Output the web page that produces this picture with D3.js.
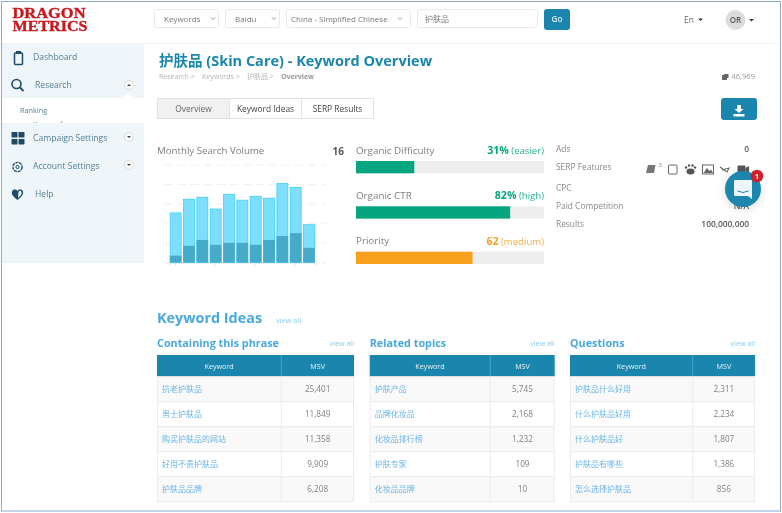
<!DOCTYPE html>
<html><head><meta charset="utf-8">
<script src="https://cdn.jsdelivr.net/npm/d3@7"></script>
<style>
html,body{margin:0;padding:0;background:#fff;overflow:hidden}
svg{display:block;font-family:"Open Sans","Noto Sans CJK SC",sans-serif;filter:blur(.3px)}
</style></head><body>
<svg id="c" width="782" height="513"></svg>
<script>
const months = d3.range(1, 12).map(String);
const totalVolume = [51, 65, 67, 55, 70, 64, 68, 66, 81, 77, 39];
const lowerVolume = [7, 17, 23, 18, 20, 20, 18, 23, 27, 30, 15];
const meterLabels = ["Organic Difficulty", "Organic CTR", "Priority"];
const meterValues = [31, 82, 62];
const meterTexts = [["31%", " (easier)"], ["82%", " (high)"], ["62", " (medium)"]];
const statLabels = ["Ads", "SERP Features", "CPC", "Paid Competition", "Results"];
const statValues = ["0", "", "", "N/A", "100,000,000"];
const tableTitles = ["Containing this phrase", "Related topics", "Questions"];
const table1Keywords = ["抗老护肤品", "男士护肤品", "购买护肤品的网站", "好用不贵护肤品", "护肤品品牌"];
const table1Msv = ["25,401", "11,849", "11,358", "9,909", "6,208"];
const table2Keywords = ["护肤产品", "品牌化妆品", "化妆品排行榜", "护肤专家", "化妆品品牌"];
const table2Msv = ["5,745", "2,168", "1,232", "109", "10"];
const table3Keywords = ["护肤品什么好用", "什么护肤品好用", "什么护肤品好", "护肤品有哪些", "怎么选择护肤品"];
const table3Msv = ["2,311", "2,234", "1,807", "1,386", "856"];

const svg = d3.select("#c");
const T = (x, y, s, size, fill, o = {}) => svg.append("text").attr("x", x).attr("y", y).text(s)
  .attr("font-size", size).attr("fill", fill).attr("font-weight", o.w || 400)
  .attr("text-anchor", o.a || "start");
const R = (x, y, w, h, fill, o = {}) => svg.append("rect").attr("x", x).attr("y", y).attr("width", w).attr("height", h)
  .attr("fill", fill).attr("stroke", o.s || "none").attr("rx", o.r || 0);
const P = (d, fill, o = {}) => svg.append("path").attr("d", d).attr("fill", fill)
  .attr("stroke", o.s || "none").attr("stroke-width", o.sw || 1);

const ink = "#1e4a63", teal = "#1a86ad", sky = "#4aa8e0", grey = "#7d7d7d", green = "#05a67f", orange = "#f7a01e";

// sidebar
R(2, 43, 142, 55, "#eef6fa");
T(33, 126.5, "Keywords", 7.3, "#557f93");
R(2, 123, 142, 140, "#eef6fa");
P("M122 98 L128 93 L134 98Z", "#fff");
T(33, 60, "Dashboard", 8.6, "#557f93");
T(35, 88, "Research", 8.6, "#557f93");
T(20, 113, "Ranking", 7.3, "#557f93");
T(33, 141, "Campaign Settings", 8.6, "#557f93");
T(33, 169, "Account Settings", 8.6, "#557f93");
T(35, 197, "Help", 8.6, "#557f93");
// sidebar icons
R(14.5, 53, 8, 11.5, "none", {s: ink, r: 1}).attr("stroke-width", 1.5);
R(16, 51, 5, 3, ink);
svg.append("circle").attr("cx", 16.5).attr("cy", 84).attr("r", 4.5).attr("fill", "none").attr("stroke", ink).attr("stroke-width", 1.6);
P("M20 87.5 L23.5 91", "none", {s: ink, sw: 1.8});
[[11.5, 132], [18.5, 132], [11.5, 139], [18.5, 139]].forEach(p => R(p[0], p[1], 6, 5.5, ink, {r: .8}));
svg.append("circle").attr("cx", 17.5).attr("cy", 167).attr("r", 4.6).attr("fill", "none").attr("stroke", ink).attr("stroke-width", 1.4).attr("stroke-dasharray", "3 .8");
svg.append("circle").attr("cx", 17.5).attr("cy", 167).attr("r", 1.6).attr("fill", "none").attr("stroke", ink);
P("M17.5 200 C12 196 11.5 193.5 12 191.5 C13 189 16 189 17.5 191 C19 189 22 189 23 191.5 C23.5 193.5 23 196 17.5 200Z", ink);
P("M18 198 C21 195.5 22 193.5 21.6 192 C21 190.5 19.5 190.5 18.5 191.8Z", "#eef6fa");
[[129, 85, 1], [129, 137, 0], [129, 165, 0]].forEach(d => {
  svg.append("circle").attr("cx", d[0]).attr("cy", d[1]).attr("r", 4.6).attr("fill", "#f8f8f8").attr("stroke", "#ddd");
  P(d[2] ? `M${d[0]-2} ${d[1]+1} L${d[0]} ${d[1]-1} L${d[0]+2} ${d[1]+1}Z` : `M${d[0]-2} ${d[1]-1} L${d[0]} ${d[1]+1} L${d[0]+2} ${d[1]-1}Z`, "#444");
});

// logo
const logoF = (y, s, len) => T(12.5, y, s, 14.2, "#c8181e", {w: 700})
  .attr("font-family", "Liberation Serif").attr("textLength", len).attr("lengthAdjust", "spacingAndGlyphs")
  .attr("stroke", "#c8181e").attr("stroke-width", .35);
logoF(18, "DRAGON", 73);
logoF(30.5, "METRICS", 75);

// top controls
const box = (x, w, s, tx) => { R(x + .5, 9.5, w, 18, "#fff", {s: "#e8e8e8", r: 2}); T(tx, 22, s, 8, "#777"); };
box(154, 64, "Keywords", 164);
box(225, 54, "Baidu", 235);
box(286, 124, "China - Simplified Chinese", 291);
box(417, 120, "护肤品", 425);
[[213, 18.5], [274, 18.5], [400, 18.5]].forEach(p => P(`M${p[0]-2} ${p[1]-1} L${p[0]} ${p[1]+1} L${p[0]+2} ${p[1]-1}`, "none", {s: "#777", sw: .8}));
R(544, 9, 26, 21, teal, {r: 3});
T(557, 22, "Go", 8.2, "#d8eef6", {w: 600, a: "middle"});
T(684, 23, "En", 8.4, "#666");
P("M698 18.5 L703 18.5 L700.5 21Z", "#333");
svg.append("circle").attr("cx", 735.5).attr("cy", 20).attr("r", 10).attr("fill", "#dcdcdc");
T(735.5, 23, "OR", 8, "#555", {w: 600, a: "middle"});
P("M749 19 L754 19 L751.5 21.5Z", "#333");
P("M144 43.5 H780", "none", {s: "#f4f4f4"});

// header
T(159, 65.5, "护肤品 (Skin Care) - Keyword Overview", 14.5, teal, {w: 700});
const crumbs = [[159, "Research  >"], [202, "Keywords  >"], [247, "护肤品  >"]];
crumbs.forEach(c => T(c[0], 79, c[1], 7, "#b4b4b4"));
T(281, 79, "Overview", 7, "#999", {w: 700});
T(755, 79, "46,969", 7.6, "#999", {a: "end"});
P("M722 75 h5 v5 h-5z M723.5 74 h5 v4 h-1z", "#666");

// tabs
R(157.5, 98.5, 72, 20, "#f1f1f1", {s: "#e2e2e2"});
R(229.5, 98.5, 72, 20, "#fff", {s: "#e2e2e2"});
R(301.5, 98.5, 72, 20, "#fff", {s: "#e2e2e2"});
T(193.5, 112, "Overview", 8.4, "#666", {a: "middle"});
T(265.5, 112, "Keyword Ideas", 8.4, "#444", {a: "middle"});
T(337.5, 112, "SERP Results", 8.4, "#444", {a: "middle"});
R(721, 98, 36, 22, teal, {r: 3});
P("M737 105 h4 v4 h2.5 L739 113 L734.5 109 H737Z M733.5 114 h11 v2.5 h-11Z", "#fff");

// volume chart
T(157, 153.5, "Monthly Search Volume", 9.7, grey);
T(344, 154.5, "16", 10, "#555", {w: 700, a: "end"});
const x = d3.scaleBand().domain(months).range([169, 315.7]).paddingInner(.12).paddingOuter(.06);
const y = d3.scaleLinear().domain([0, 100]).range([262.5, 164.5]);
const gy = svg.append("g").attr("transform", "translate(165,0)")
  .call(d3.axisLeft(y).ticks(4).tickSize(-160).tickFormat(""));
gy.select(".domain").remove();
gy.selectAll(".tick line").attr("stroke", "#f0f0f0").attr("stroke-dasharray", "8 5");
const gx = svg.append("g").attr("transform", "translate(0,262.5)")
  .call(d3.axisBottom(x).tickValues(months.filter((m, i) => i % 3 === 0)).tickSize(3).tickFormat(""));
gx.selectAll(".domain,.tick line").attr("stroke", "#d6e4ea");
svg.append("g").selectAll("rect").data(totalVolume).join("rect")
  .attr("x", (d, i) => x(months[i]) + .4).attr("width", x.bandwidth() - .8)
  .attr("y", d => y(d) + .4).attr("height", d => y(0) - y(d) - .4)
  .attr("fill", "#7cdffb").attr("stroke", "#3fd0f8").attr("stroke-width", .8);
svg.append("g").selectAll("rect").data(lowerVolume).join("rect")
  .attr("x", (d, i) => x(months[i])).attr("width", x.bandwidth())
  .attr("y", d => y(d)).attr("height", d => y(0) - y(d))
  .attr("fill", "#46aac9");

// meters
const m = d3.scaleLinear().domain([0, 100]).range([356, 544]);
const meterColors = [green, green, orange];
const meterY = [161, 206.3, 251.7];
meterValues.forEach((v, i) => {
  const yy = meterY[i];
  T(356, yy - 7.5, meterLabels[i], 9.8, grey);
  const t = T(544, yy - 7, "", 10.6, meterColors[i], {a: "end"});
  t.append("tspan").text(meterTexts[i][0]).attr("font-weight", 700);
  t.append("tspan").text(meterTexts[i][1]).attr("font-size", 9.6).attr("opacity", .85);
  R(m(0), yy, m(100) - m(0), 12.3, "#eeeeee");
  R(m(0), yy, m(v) - m(0), 12.3, meterColors[i]);
});

// right stats
const statY = [152, 170, 190.5, 208.5, 226.5];
statLabels.forEach((s, i) => {
  T(556, statY[i], s, 8.4, "#888");
  if (statValues[i]) T(749, statY[i], statValues[i], 8.4, "#555", {w: 600, a: "end"});
});
// SERP icons
P("M648 165 h7.5 l-1.5 8 h-8z", "#777");
T(658.5, 167, "3", 6, "#888");
R(668.5, 165, 8.5, 9, "none", {s: "#666", r: 1});
[[686, 167.5, 1.2], [689, 165.5, 1.2], [692.5, 165.5, 1.2], [695, 167.5, 1.2]].forEach(c => svg.append("circle").attr("cx", c[0]).attr("cy", c[1]).attr("r", c[2]).attr("fill", "#555"));
svg.append("ellipse").attr("cx", 690.5).attr("cy", 171.5).attr("rx", 4).attr("ry", 3).attr("fill", "#555");
R(702.5, 165, 11, 9, "none", {s: "#666"});
P("M703.5 173 L707 168 L709.5 171 L711 169.5 L713 173Z", "#666");
P("M720 167 L727 172 L729 168 L722 170", "none", {s: "#666", sw: 1.1});
R(737.5, 165.5, 8, 8.5, "#555", {r: 1});
P("M745.5 168 L749 166 V173 L745.5 171Z", "#555");

// chat bubble
const shadow = svg.append("defs").append("filter").attr("id", "sh").attr("x", "-40%").attr("y", "-40%").attr("width", "180%").attr("height", "180%");
shadow.append("feDropShadow").attr("dx", 0).attr("dy", 2).attr("stdDeviation", 5).attr("flood-color", "#000").attr("flood-opacity", .14);
svg.append("circle").attr("cx", 743).attr("cy", 189).attr("r", 18).attr("fill", teal).attr("filter", "url(#sh)");
P("M735 180 h16 a1 1 0 0 1 1 1 v18 l-4 -3 h-13 a1 1 0 0 1 -1 -1 v-14 a1 1 0 0 1 1 -1Z", "#eef5f8");
P("M737.5 191 q5.5 3 11 0", "none", {s: teal, sw: 1});
svg.append("circle").attr("cx", 757).attr("cy", 176).attr("r", 6.3).attr("fill", "#d11f2c");
T(757, 178.7, "1", 7, "#fff", {w: 700, a: "middle"});

// keyword ideas
T(157, 323, "Keyword Ideas", 14.4, sky, {w: 700});
T(276, 323, "view all", 7.4, "#8ccbee");

const tables = [
  {x0: 157, x1: 281.3, x2: 354, k: table1Keywords, v: table1Msv},
  {x0: 369.7, x1: 490.3, x2: 554.7, k: table2Keywords, v: table2Msv},
  {x0: 570, x1: 692.7, x2: 755, k: table3Keywords, v: table3Msv}
];
const rowY = d3.scaleBand().domain(d3.range(5)).range([376.7, 501.7]);
tables.forEach((t, ti) => {
  T(t.x0, 347, tableTitles[ti], 10.8, sky, {w: 700});
  T(t.x2, 346, "view all", 7.2, "#8ccbee", {a: "end"});
  R(t.x0, 355, t.x2 - t.x0, 21.7, teal);
  P(`M${t.x1} 355 V376.7`, "none", {s: "#4d9fc0"});
  T((t.x0 + t.x1) / 2, 368.5, "Keyword", 7.2, "#e8f4f8", {a: "middle"});
  T((t.x1 + t.x2) / 2, 368.5, "MSV", 7.2, "#e8f4f8", {a: "middle"});
  t.k.forEach((k, i) => {
    const yy = rowY(i);
    R(t.x0 + .5, yy, t.x2 - t.x0 - 1, rowY.bandwidth(), i % 2 ? "#fff" : "#f9f9f9", {s: "#ececec"});
    P(`M${t.x1} ${yy} v${rowY.bandwidth()}`, "none", {s: "#ececec"});
    T(t.x0 + 5, yy + 15, k, 8, "#6bb5e4");
    T((t.x1 + t.x2) / 2, yy + 14.8, t.v[i], 8.2, "#808080", {a: "middle"});
  });
});

// screenshot frame
R(1.5, 1.5, 779, 509.5, "none", {s: "#8aa8da"});
</script>
</body></html>
